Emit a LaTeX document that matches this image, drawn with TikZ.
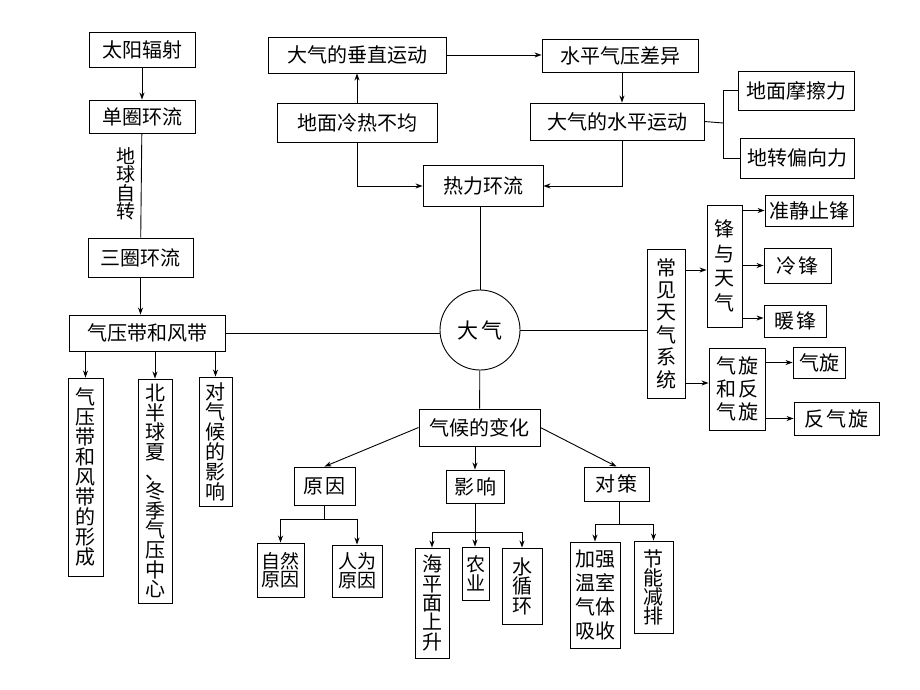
\documentclass[tikz,border=0pt]{standalone}
\usepackage{fontspec}
\newfontfamily\cjk{Noto Sans CJK SC}
\usetikzlibrary{arrows.meta}
\tikzset{
  box/.style={draw, line width=0.9pt, inner sep=0pt, align=center,
    font=\cjk\fontsize{20}{#1}\selectfont},
  box/.default=22,
  arr/.style={-{Stealth[length=7pt,width=5pt]}},
}
\begin{document}
\begin{tikzpicture}[x=1pt, y=-1pt, line width=0.9pt]
      \useasboundingbox (0,0) rectangle (920,690);
      \fill[white] (0,0) rectangle (920,690);
      \draw
        (142,49.5) node[box, minimum width=106, minimum height=35] (taiyang){太阳辐射}
        (142,116.5) node[box, minimum width=106, minimum height=33] (danquan){单圈环流}
        (126,184) node[font=\cjk\fontsize{19}{18.5}\selectfont, align=center] (zizhuan){地\\球\\自\\转}
        (140.5,257.5) node[box, minimum width=105, minimum height=39] (sanquan){三圈环流}
        (147,333) node[box, minimum width=156, minimum height=36] (qiya){气压带和风带}
        (85.5,477) node[box=20, minimum width=35, minimum height=198] (xingcheng){气\\压\\带\\和\\风\\带\\的\\形\\成}
        (155,491) node[box=19.6, minimum width=34, minimum height=224] (zhongxin){北\\半\\球\\夏\\、\\冬\\季\\气\\压\\中\\心}
        (215.5,441.5) node[box=20, minimum width=33, minimum height=129] (duiqihou){对\\气\\候\\的\\影\\响}
        (357,55) node[box, minimum width=178, minimum height=36] (chuizhi){大气的垂直运动}
        (357,122.5) node[box, minimum width=160, minimum height=39] (lengre){地面冷热不均}
        (483,186) node[box, minimum width=120, minimum height=41] (reli){热力环流}
        (620,56) node[box, minimum width=156, minimum height=33] (chayi){水平气压差异}
        (617,121.5) node[box, minimum width=174, minimum height=37] (shuiping){大气的水平运动}
        (796,90.5) node[box, minimum width=116, minimum height=39] (mocali){地面摩擦力}
        (797,158) node[box, minimum width=114, minimum height=40] (pianxiang){地转偏向力}
        (480,330) node[circle, draw, minimum size=80, inner sep=0pt, font=\cjk\fontsize{21}{22}\selectfont] (daqi){大\hspace{3pt}气}
        (666,323.5) node[box=22.4, minimum width=38, minimum height=149] (tianqi){常\\见\\天\\气\\系\\统}
        (724.5,266) node[box=24.5, minimum width=35, minimum height=122] (fengyu){锋\\与\\天\\气}
        (809,210.5) node[box, minimum width=88, minimum height=31] (zhunjingzhi){准静止锋}
        (797.5,265.5) node[box, minimum width=67, minimum height=35] (lengfeng){冷\hspace{2pt}锋}
        (795,321) node[box, minimum width=62, minimum height=32] (nuanfeng){暖\hspace{2pt}锋}
        (737,389) node[box=23, minimum width=56, minimum height=82] (xuanfan){气\hspace{2pt}旋\\和\hspace{2pt}反\\气\hspace{2pt}旋}
        (819,362.5) node[box, minimum width=52, minimum height=31] (qixuan){气旋}
        (836.5,418.5) node[box, minimum width=85, minimum height=33] (fanqixuan){反\hspace{2pt}气\hspace{2pt}旋}
        (479.5,427.5) node[box, minimum width=121, minimum height=37] (bianhua){气候的变化}
        (324.5,486) node[box, minimum width=61, minimum height=38] (yuanyin){原\hspace{2pt}因}
        (475,486.5) node[box, minimum width=58, minimum height=33] (yingxiang){影\hspace{2pt}响}
        (616.5,484) node[box, minimum width=65, minimum height=34] (duice){对\hspace{2pt}策}
        (280.5,570) node[box, font=\cjk\fontsize{19}{18.5}\selectfont, minimum width=47, minimum height=54] (ziran){自然\\原因}
        (357,571) node[box, font=\cjk\fontsize{19}{18.5}\selectfont, minimum width=50, minimum height=52] (renwei){人为\\原因}
        (432,603) node[box=19.3, minimum width=34, minimum height=110] (haiping){海\\平\\面\\上\\升}
        (475.5,573.5) node[box, font=\cjk\fontsize{19}{18.5}\selectfont, minimum width=27, minimum height=53] (nongye){农\\业}
        (522,586) node[box=19.5, minimum width=40, minimum height=76] (shuixun){水\\循\\环}
        (595,595) node[box=24.3, minimum width=50, minimum height=106] (jiaqiang){加强\\温室\\气体\\吸收}
        (653.5,587) node[box=19, minimum width=39, minimum height=92] (jieneng){节\\能\\减\\排};
      \coordinate (fork) at (723,123);
      \coordinate (yy) at (324.5,519);
      \coordinate (yx) at (475,532);
      \coordinate (dc) at (619,524);
      \begin{scope}[arr]
        \draw (taiyang) to (danquan);
        \draw (sanquan.south) to (sanquan.south |- qiya.north);
        \draw (qiya.south -| xingcheng) to (xingcheng.north);
        \draw (qiya.south -| zhongxin) to (zhongxin.north);
        \draw (qiya.south -| duiqihou) to (duiqihou.north);
        \draw (lengre) to (chuizhi);
        \draw (chuizhi.east) to (chuizhi.east -| chayi.west);
        \draw (lengre.south) |- (reli.west);
        \draw (chayi.south -| 622,0) to (622,0 |- shuiping.north);
        \draw (shuiping.south -| 622,0) |- (reli.east);
        \draw ([yshift=-4pt]tianqi.east |- fengyu) to ([yshift=-4pt]fengyu.west);
        \draw ([yshift=6pt]tianqi.east |- xuanfan) to ([yshift=6pt]xuanfan.west);
        \draw (fengyu.east |- zhunjingzhi) to (zhunjingzhi.west);
        \draw (fengyu.east |- lengfeng) to (lengfeng.west);
        \draw ([yshift=3pt]fengyu.east |- nuanfeng) to ([yshift=3pt]nuanfeng.west);
        \draw (xuanfan.east |- qixuan) to (qixuan.west);
        \draw (xuanfan.east |- fanqixuan) to (fanqixuan.west);
        \draw (bianhua.west) to (yuanyin.north);
        \draw (bianhua.south -| yingxiang) to (yingxiang.north);
        \draw (bianhua.east) to (duice.north);
        \draw (yy) -| (ziran.north);
        \draw (yy) -| (renwei.north);
        \draw (yx) -| (haiping.north);
        \draw (yx) to (yx |- nongye.north);
        \draw (yx) -| (shuixun.north);
        \draw (dc) -| (jiaqiang.north);
        \draw (dc) -| (jieneng.north);
      \end{scope}
      \begin{scope}[-]
        \draw (danquan) to (sanquan);
        \draw (qiya.east) to (qiya.east -| daqi.west);
        \draw (reli.south -| daqi) to (daqi.north);
        \draw (daqi.east) to (daqi.east -| tianqi.west);
        \draw (daqi) to (bianhua);
        \draw (shuiping.east) to (fork);
        \draw (mocali.west) -| (fork) |- (pianxiang.west);
        \draw (yuanyin.south) to (yy);
        \draw (yingxiang.south) to (yx);
        \draw (duice.south -| dc) to (dc);
      \end{scope}
    \end{tikzpicture}
\end{document}
